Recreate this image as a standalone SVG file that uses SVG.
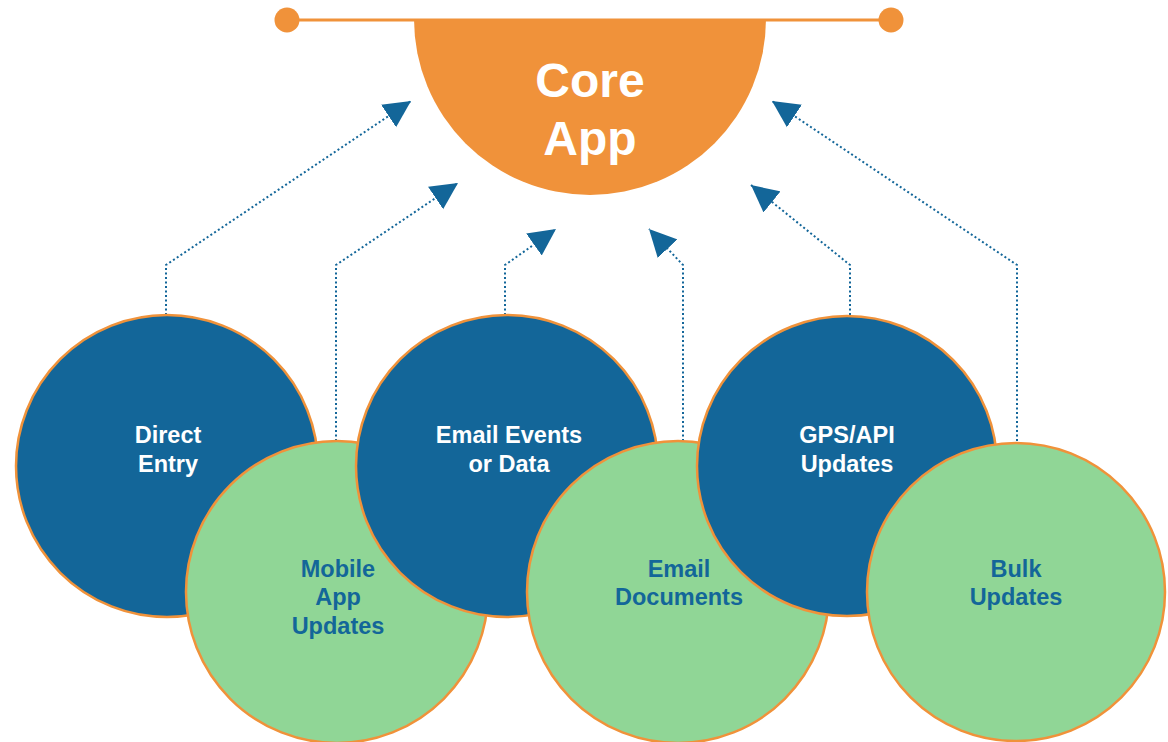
<svg xmlns="http://www.w3.org/2000/svg" width="1168" height="742" viewBox="0 0 1168 742">
  <style>
    .blue { fill: #136699; stroke: #F0923A; stroke-width: 2.5; }
    .green { fill: #90D696; stroke: #F0923A; stroke-width: 2.5; }
    .lbl { font-family: "Liberation Sans", Arial, sans-serif; font-weight: bold; font-size: 23.5px; text-anchor: middle; }
    .wt { fill: #FFFFFF; }
    .bt { fill: #136699; }
    .core { font-family: "Liberation Sans", Arial, sans-serif; font-weight: bold; font-size: 48px; text-anchor: middle; fill: #FFFFFF; }
    .conn { fill: none; stroke: #136699; stroke-width: 2; stroke-dasharray: 2 2.5; }
  </style>
  <defs>
    <marker id="ah" markerUnits="userSpaceOnUse" markerWidth="28" markerHeight="28" viewBox="0 0 28 28" refX="27" refY="14" orient="auto">
      <path d="M0,0.5 L27,14 L0,27.5 Z" fill="#136699"/>
    </marker>
  </defs>
  <rect width="1168" height="742" fill="#FFFFFF"/>

  <g id="core-app">
    <line x1="287" y1="20" x2="891" y2="20" stroke="#F0923A" stroke-width="2.8"/>
    <circle cx="287" cy="20" r="12.5" fill="#F0923A"/>
    <circle cx="891" cy="20" r="12.5" fill="#F0923A"/>
    <path d="M414,19 A176,176 0 0 0 766,19 Z" fill="#F0923A"/>
    <text class="core" x="590" y="97">Core</text>
    <text class="core" x="590" y="155">App</text>
  </g>

  <g id="connectors">
    <polyline class="conn" points="166,315 166,265 411,101" marker-end="url(#ah)"/>
    <polyline class="conn" points="336,441 336,265 458,183" marker-end="url(#ah)"/>
    <polyline class="conn" points="505,315 505,265 556,229" marker-end="url(#ah)"/>
    <polyline class="conn" points="683,441 683,265 649,229" marker-end="url(#ah)"/>
    <polyline class="conn" points="850,315 850,265 751,185" marker-end="url(#ah)"/>
    <polyline class="conn" points="1017,441 1017,265 772,101" marker-end="url(#ah)"/>
  </g>

  <g id="direct-entry">
    <circle class="blue" cx="167" cy="466" r="151"/>
    <text class="lbl wt" x="168" y="443">Direct</text>
    <text class="lbl wt" x="168" y="472">Entry</text>
  </g>
  <g id="mobile-app-updates">
    <circle class="green" cx="337" cy="592" r="151"/>
    <text class="lbl bt" x="338" y="577">Mobile</text>
    <text class="lbl bt" x="338" y="605">App</text>
    <text class="lbl bt" x="338" y="634">Updates</text>
  </g>
  <g id="email-events">
    <circle class="blue" cx="507" cy="466" r="151"/>
    <text class="lbl wt" x="509" y="443">Email Events</text>
    <text class="lbl wt" x="509" y="472">or Data</text>
  </g>
  <g id="email-documents">
    <circle class="green" cx="678" cy="592" r="151"/>
    <text class="lbl bt" x="679" y="577">Email</text>
    <text class="lbl bt" x="679" y="605">Documents</text>
  </g>
  <g id="gps-api-updates">
    <circle class="blue" cx="847" cy="466" r="150"/>
    <text class="lbl wt" x="847" y="443">GPS/API</text>
    <text class="lbl wt" x="847" y="472">Updates</text>
  </g>
  <g id="bulk-updates">
    <circle class="green" cx="1016" cy="592" r="149"/>
    <text class="lbl bt" x="1016" y="577">Bulk</text>
    <text class="lbl bt" x="1016" y="605">Updates</text>
  </g>
</svg>
